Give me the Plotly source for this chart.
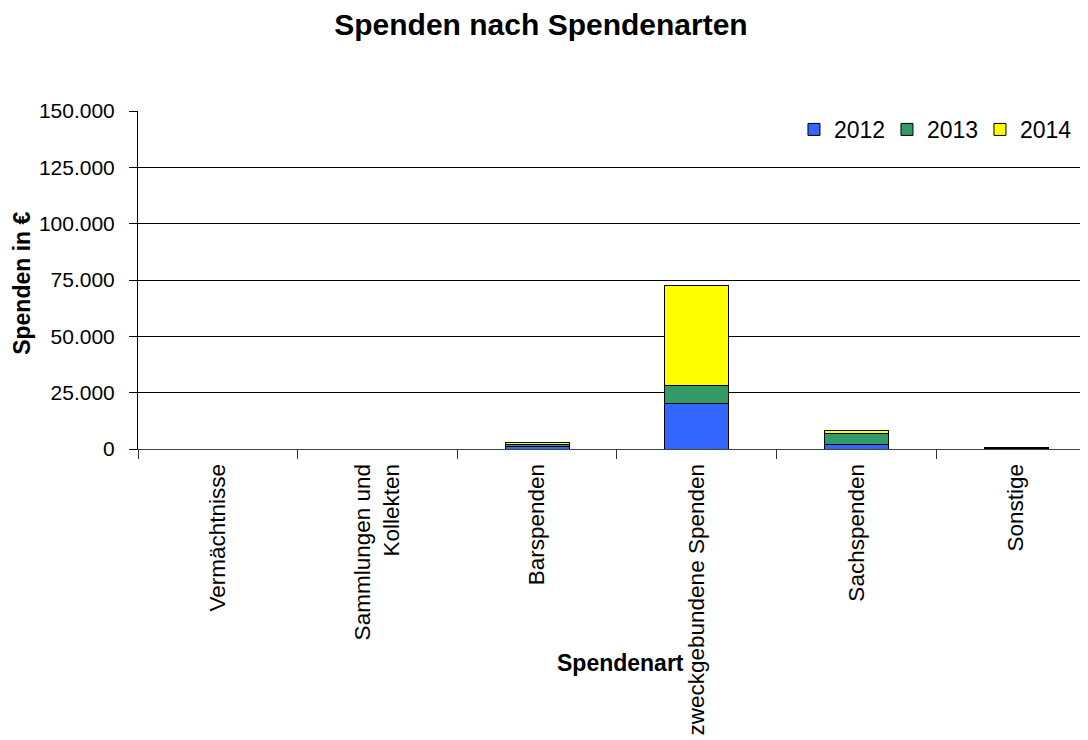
import plotly.graph_objects as go

categories = ["Vermächtnisse", "Sammlungen und<br>Kollekten", "Barspenden",
              "zweckgebundene Spenden", "Sachspenden", "Sonstige"]
years = ["2012", "2013", "2014"]
values_2012 = [0, 0, 900, 20000, 2000, 300]
values_2013 = [0, 0, 900, 8300, 4700, 200]
values_2014 = [0, 0, 900, 44100, 1500, 300]
colors = ["#3366FF", "#339966", "#FFFF00"]
y_ticks = [0, 25000, 50000, 75000, 100000, 125000, 150000]

FONT = "Liberation Sans, Arial, sans-serif"

fig = go.Figure()
for name, vals, col in zip(years, [values_2012, values_2013, values_2014], colors):
    fig.add_trace(go.Bar(
        x=categories, y=vals, name=name, width=0.4,
        marker=dict(color=col, line=dict(color="black", width=1)),
    ))

fig.update_layout(
    width=1080, height=732,
    barmode="stack",
    separators=",.",
    paper_bgcolor="white", plot_bgcolor="white",
    margin=dict(l=130, r=0, t=103, b=291),
    font=dict(family=FONT, color="black"),
    title=dict(text="<b>Spenden nach Spendenarten</b>", font=dict(size=30, family=FONT, color="black"),
               xref="container", x=0.4935, xanchor="center", yref="container", y=0.9768, yanchor="middle"),
    showlegend=True,
    legend=dict(orientation="h", xref="paper", x=0.6905, xanchor="left",
                yref="paper", y=1.009, yanchor="top",
                bgcolor="white", font=dict(size=23, family=FONT, color="black"),
                entrywidth=48, entrywidthmode="pixels", traceorder="normal"),
    xaxis=dict(type="category", range=[-0.5, 5.45], tickangle=-90,
               ticks="outside", tickson="boundaries", ticklen=9, tickcolor="#333333",
               ticklabelstandoff=5,
               showline=True, linecolor="#444444", linewidth=1,
               tickfont=dict(size=22.5, family=FONT, color="black"), showgrid=False),
    yaxis=dict(range=[0, 150000], tickvals=y_ticks, tickformat=",.0f",
               ticks="outside", ticklen=8, tickcolor="black", ticklabelstandoff=10,
               showline=True, linecolor="black", linewidth=1,
               showgrid=True, gridcolor="black", gridwidth=1, zeroline=False,
               tickfont=dict(size=21, family=FONT, color="black")),
    annotations=[
        dict(text="<b>Spendenart</b>", xref="paper", yref="paper", x=0.5084, y=-0.633,
             xanchor="center", yanchor="middle", showarrow=False,
             font=dict(size=23, family=FONT, color="black")),
        dict(text="<b>Spenden in €</b>", xref="paper", yref="paper", x=-0.122, y=0.489,
             xanchor="center", yanchor="middle", textangle=-90, showarrow=False,
             font=dict(size=23, family=FONT, color="black")),
    ],
)

fig.write_html("out.html")
